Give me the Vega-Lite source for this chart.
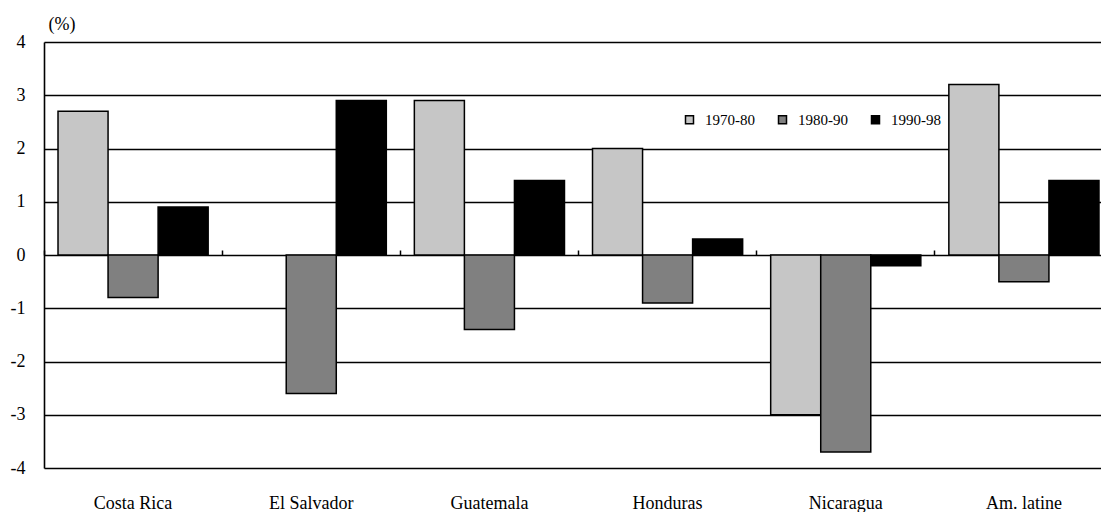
{
  "$schema": "https://vega.github.io/schema/vega-lite/v6.json",
  "autosize": {"type": "none"},
  "padding": {"left": 44, "top": 42, "right": 0, "bottom": 44},
  "width": 1057,
  "height": 426,
  "background": "white",
  "config": {
    "font": "Liberation Serif",
    "view": {"stroke": null}
  },
  "data": {
    "values": [
      {"country": "Costa Rica", "period": "1970-80", "value": 2.7},
      {"country": "Costa Rica", "period": "1980-90", "value": -0.8},
      {"country": "Costa Rica", "period": "1990-98", "value": 0.9},
      {"country": "El Salvador", "period": "1970-80", "value": 0},
      {"country": "El Salvador", "period": "1980-90", "value": -2.6},
      {"country": "El Salvador", "period": "1990-98", "value": 2.9},
      {"country": "Guatemala", "period": "1970-80", "value": 2.9},
      {"country": "Guatemala", "period": "1980-90", "value": -1.4},
      {"country": "Guatemala", "period": "1990-98", "value": 1.4},
      {"country": "Honduras", "period": "1970-80", "value": 2.0},
      {"country": "Honduras", "period": "1980-90", "value": -0.9},
      {"country": "Honduras", "period": "1990-98", "value": 0.3},
      {"country": "Nicaragua", "period": "1970-80", "value": -3.0},
      {"country": "Nicaragua", "period": "1980-90", "value": -3.7},
      {"country": "Nicaragua", "period": "1990-98", "value": -0.2},
      {"country": "Am. latine", "period": "1970-80", "value": 3.2},
      {"country": "Am. latine", "period": "1980-90", "value": -0.5},
      {"country": "Am. latine", "period": "1990-98", "value": 1.4}
    ]
  },
  "resolve": {"axis": {"x": "independent"}},
  "layer": [
    {
      "transform": [{"filter": "datum.value != 0"}],
      "mark": {"type": "bar", "stroke": "black", "strokeWidth": 1.5},
      "encoding": {
        "x": {
          "field": "country",
          "type": "nominal",
          "sort": null,
          "scale": {"range": [0, 1069], "paddingInner": 0, "paddingOuter": 0},
          "axis": {
            "title": null,
            "orient": "bottom",
            "domain": false,
            "ticks": false,
            "tickSize": 0,
            "labelAngle": 0,
            "labelFontSize": 18,
            "labelColor": "black",
            "labelBaseline": "alphabetic",
            "labelPadding": 40
          }
        },
        "xOffset": {
          "field": "period",
          "type": "nominal",
          "scale": {"paddingInner": 0, "paddingOuter": 0.28}
        },
        "y": {
          "field": "value",
          "type": "quantitative",
          "scale": {"domain": [-4, 4], "nice": false, "zero": false},
          "axis": {
            "values": [-4, -3, -2, -1, 0, 1, 2, 3, 4],
            "labelExpr": "datum.value < 0 ? '-' + abs(datum.value) : '' + datum.value",
            "grid": true,
            "gridColor": "black",
            "gridWidth": 1.6,
            "gridOpacity": 1,
            "domain": true,
            "domainColor": "black",
            "domainWidth": 1.6,
            "ticks": false,
            "tickSize": 0,
            "labelFontSize": 18,
            "labelColor": "black",
            "labelPadding": 19,
            "title": "(%)",
            "titleAngle": 0,
            "titleAlign": "left",
            "titleBaseline": "alphabetic",
            "titleX": 4,
            "titleY": -13,
            "titleFontSize": 18,
            "titleFontWeight": "normal",
            "titleColor": "black"
          }
        },
        "fill": {
          "field": "period",
          "type": "nominal",
          "scale": {"domain": ["1970-80", "1980-90", "1990-98"], "range": ["#c6c6c6", "#808080", "#000000"]},
          "legend": {
            "title": null,
            "orient": "none",
            "direction": "horizontal",
            "columns": 3,
            "legendX": 638,
            "legendY": 70,
            "padding": 0,
            "symbolType": "square",
            "symbolSize": 64,
            "symbolStrokeColor": "black",
            "symbolStrokeWidth": 1.5,
            "symbolOpacity": 1,
            "labelFontSize": 15,
            "labelColor": "black",
            "labelOffset": 8,
            "columnPadding": 20
          }
        }
      }
    },
    {
      "mark": {"type": "point", "opacity": 0},
      "encoding": {
        "x": {
          "field": "country",
          "type": "nominal",
          "sort": null,
          "axis": {
            "title": null,
            "orient": "top",
            "offset": -213,
            "domain": false,
            "labels": false,
            "ticks": true,
            "tickSize": 5,
            "tickColor": "black",
            "tickWidth": 1.5,
            "bandPosition": 0
          }
        },
        "y": {"datum": 0, "type": "quantitative"}
      }
    }
  ]
}
